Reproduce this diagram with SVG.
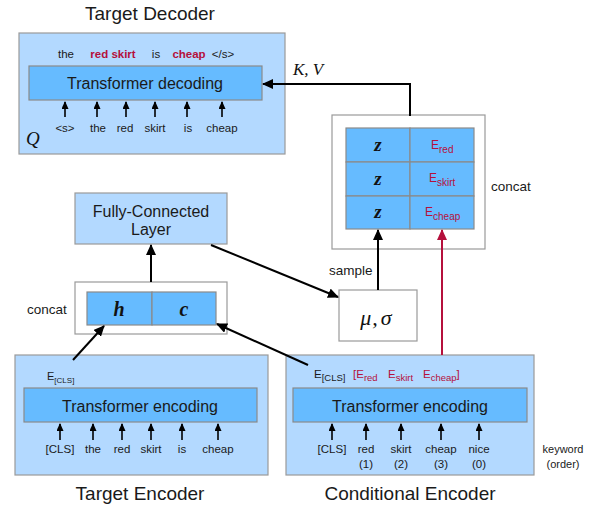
<svg xmlns="http://www.w3.org/2000/svg" width="597" height="508" viewBox="0 0 597 508">
<defs>
<style>
.outer{fill:#b3d9ff;stroke:#9a9a9a;stroke-width:1.2}
.bar{fill:#66bbff;stroke:#8a8a8a;stroke-width:1.2}
.wbox{fill:#ffffff;stroke:#9a9a9a;stroke-width:1.2}
.cell{fill:#66bbff;stroke:#8a8a8a;stroke-width:1.2}
.t{font-family:"Liberation Sans",Arial,sans-serif;fill:#1a1a1a}
.title{font-size:19px;text-anchor:middle}
.bt{font-size:16px;text-anchor:middle}
.w{font-size:11.5px;text-anchor:middle}
.red{fill:#b5103c}
.m{font-family:"Liberation Serif","DejaVu Serif",serif;font-style:italic;fill:#111}
.mb{font-family:"Liberation Serif","DejaVu Serif",serif;font-style:italic;font-weight:bold;fill:#111;text-anchor:middle}
.ln{stroke:#000;stroke-width:2;fill:none}
.lr{stroke:#b5103c;stroke-width:2;fill:none}
.sm{stroke:#000;stroke-width:1.6;fill:none}
</style>
<marker id="ah" markerUnits="userSpaceOnUse" markerWidth="11" markerHeight="10" refX="10" refY="5" orient="auto">
<path d="M0,0 L11,5 L0,10 z" fill="#000"/>
</marker>
<marker id="ahr" markerUnits="userSpaceOnUse" markerWidth="11" markerHeight="10" refX="10" refY="5" orient="auto">
<path d="M0,0 L11,5 L0,10 z" fill="#b5103c"/>
</marker>
<marker id="sa" markerUnits="userSpaceOnUse" markerWidth="8" markerHeight="7" refX="7" refY="3.5" orient="auto">
<path d="M0,0 L8,3.5 L0,7 z" fill="#000"/>
</marker>
</defs>

<g id="target-decoder">
<text class="t title" x="150" y="20">Target Decoder</text>
<rect class="outer" x="19" y="33" width="266" height="121"/>
<text class="t w" x="66" y="58">the</text>
<text class="t w red" x="113" y="58" font-weight="bold">red skirt</text>
<text class="t w" x="156" y="58">is</text>
<text class="t w red" x="189" y="58" font-weight="bold">cheap</text>
<text class="t w" x="223" y="58">&lt;/s&gt;</text>
<rect class="bar" x="29" y="66" width="233" height="34"/>
<text class="t bt" x="145" y="89">Transformer decoding</text>
<g>
<line class="sm" x1="65" y1="117" x2="65" y2="102" marker-end="url(#sa)"/>
<line class="sm" x1="97" y1="117" x2="97" y2="102" marker-end="url(#sa)"/>
<line class="sm" x1="126" y1="117" x2="126" y2="102" marker-end="url(#sa)"/>
<line class="sm" x1="155" y1="117" x2="155" y2="102" marker-end="url(#sa)"/>
<line class="sm" x1="187" y1="117" x2="187" y2="102" marker-end="url(#sa)"/>
<line class="sm" x1="222" y1="117" x2="222" y2="102" marker-end="url(#sa)"/>
</g>
<text class="t w" x="65" y="132">&lt;s&gt;</text>
<text class="t w" x="98" y="132">the</text>
<text class="t w" x="125" y="132">red</text>
<text class="t w" x="155" y="132">skirt</text>
<text class="t w" x="188" y="132">is</text>
<text class="t w" x="222" y="132">cheap</text>
<text class="m" x="26" y="145" font-size="19">Q</text>
</g>

<g id="kv-label">
<text class="m" x="293" y="75" font-size="17">K, V</text>
</g>

<g id="z-concat">
<rect class="wbox" x="332" y="115" width="153" height="134"/>
<rect class="cell" x="346" y="128" width="64" height="34"/>
<rect class="cell" x="410" y="128" width="64" height="34"/>
<rect class="cell" x="346" y="162" width="64" height="34"/>
<rect class="cell" x="410" y="162" width="64" height="34"/>
<rect class="cell" x="346" y="196" width="64" height="33"/>
<rect class="cell" x="410" y="196" width="64" height="33"/>
<text class="mb" x="378" y="151" font-size="19">z</text>
<text class="mb" x="378" y="185" font-size="19">z</text>
<text class="mb" x="378" y="218" font-size="19">z</text>
<text class="t red" x="431" y="149" font-size="12">E<tspan font-size="10" dy="4">red</tspan></text>
<text class="t red" x="429" y="182" font-size="12">E<tspan font-size="10" dy="4">skirt</tspan></text>
<text class="t red" x="425" y="216" font-size="12">E<tspan font-size="10" dy="4">cheap</tspan></text>
<text class="t" x="491" y="191" font-size="13.5">concat</text>
</g>

<g id="fc-layer">
<rect class="outer" x="75" y="193" width="152" height="51"/>
<text class="t bt" x="151" y="217" font-size="15.5">Fully-Connected</text>
<text class="t bt" x="151" y="235" font-size="15.5">Layer</text>
</g>

<g id="hc-concat">
<rect class="wbox" x="75" y="282" width="152" height="52"/>
<rect class="cell" x="87" y="292" width="65" height="33"/>
<rect class="cell" x="152" y="292" width="64" height="33"/>
<text class="mb" x="119" y="316" font-size="20">h</text>
<text class="mb" x="184" y="316" font-size="20">c</text>
<text class="t" x="27" y="314" font-size="13.5">concat</text>
</g>

<g id="mu-sigma">
<rect class="wbox" x="339" y="290" width="78" height="51"/>
<text class="m" x="376" y="325" font-size="22" text-anchor="middle">μ<tspan dx="1">,</tspan><tspan dx="3">σ</tspan></text>
<text class="t" x="329" y="275" font-size="13.5">sample</text>
</g>

<g id="target-encoder">
<rect class="outer" x="15" y="355" width="253" height="120"/>
<text class="t" x="47" y="380" font-size="11">E<tspan font-size="8" dy="3">[CLS]</tspan></text>
<rect class="bar" x="24" y="388" width="233" height="34"/>
<text class="t bt" x="140" y="412">Transformer encoding</text>
<g>
<line class="sm" x1="60" y1="440" x2="60" y2="424" marker-end="url(#sa)"/>
<line class="sm" x1="93" y1="440" x2="93" y2="424" marker-end="url(#sa)"/>
<line class="sm" x1="122" y1="440" x2="122" y2="424" marker-end="url(#sa)"/>
<line class="sm" x1="151" y1="440" x2="151" y2="424" marker-end="url(#sa)"/>
<line class="sm" x1="182" y1="440" x2="182" y2="424" marker-end="url(#sa)"/>
<line class="sm" x1="218" y1="440" x2="218" y2="424" marker-end="url(#sa)"/>
</g>
<text class="t w" x="60" y="453">[CLS]</text>
<text class="t w" x="93" y="453">the</text>
<text class="t w" x="122" y="453">red</text>
<text class="t w" x="151" y="453">skirt</text>
<text class="t w" x="182" y="453">is</text>
<text class="t w" x="218" y="453">cheap</text>
<text class="t title" x="140" y="500">Target Encoder</text>
</g>

<g id="conditional-encoder">
<rect class="outer" x="286" y="355" width="248" height="120"/>
<text class="t" x="314" y="378" font-size="11.5">E<tspan font-size="9.5" dy="3">[CLS]</tspan></text>
<text class="t red" x="353" y="378" font-size="11.5">[E<tspan font-size="9.5" dy="3">red</tspan></text>
<text class="t red" x="388" y="378" font-size="11.5">E<tspan font-size="9.5" dy="3">skirt</tspan></text>
<text class="t red" x="423" y="378" font-size="11.5">E<tspan font-size="9.5" dy="3">cheap</tspan><tspan dy="-3">]</tspan></text>
<rect class="bar" x="293" y="388" width="234" height="34"/>
<text class="t bt" x="410" y="412">Transformer encoding</text>
<g>
<line class="sm" x1="332" y1="440" x2="332" y2="424" marker-end="url(#sa)"/>
<line class="sm" x1="366" y1="440" x2="366" y2="424" marker-end="url(#sa)"/>
<line class="sm" x1="401" y1="440" x2="401" y2="424" marker-end="url(#sa)"/>
<line class="sm" x1="441" y1="440" x2="441" y2="424" marker-end="url(#sa)"/>
<line class="sm" x1="479" y1="440" x2="479" y2="424" marker-end="url(#sa)"/>
</g>
<text class="t w" x="332" y="453">[CLS]</text>
<text class="t w" x="366" y="453">red</text>
<text class="t w" x="366" y="468">(1)</text>
<text class="t w" x="401" y="453">skirt</text>
<text class="t w" x="401" y="468">(2)</text>
<text class="t w" x="441" y="453">cheap</text>
<text class="t w" x="441" y="468">(3)</text>
<text class="t w" x="479" y="453">nice</text>
<text class="t w" x="479" y="468">(0)</text>
<text class="t title" x="410" y="500">Conditional Encoder</text>
</g>

<g id="keyword-label">
<text class="t" x="563" y="453" font-size="11" text-anchor="middle">keyword</text>
<text class="t" x="563" y="468" font-size="11" text-anchor="middle">(order)</text>
</g>

<g id="connectors">
<polyline class="ln" points="410,116 410,84 263,84" marker-end="url(#ah)"/>
<line class="ln" x1="378" y1="290" x2="378" y2="230" marker-end="url(#ah)"/>
<line class="lr" x1="442" y1="355" x2="442" y2="230" marker-end="url(#ahr)"/>
<line class="ln" x1="151" y1="282" x2="151" y2="245" marker-end="url(#ah)"/>
<line class="ln" x1="211" y1="245" x2="338" y2="297" marker-end="url(#ah)"/>
<line class="ln" x1="73" y1="360" x2="104" y2="326" marker-end="url(#ah)"/>
<line class="ln" x1="308" y1="365" x2="217" y2="324" marker-end="url(#ah)"/>
</g>
</svg>
